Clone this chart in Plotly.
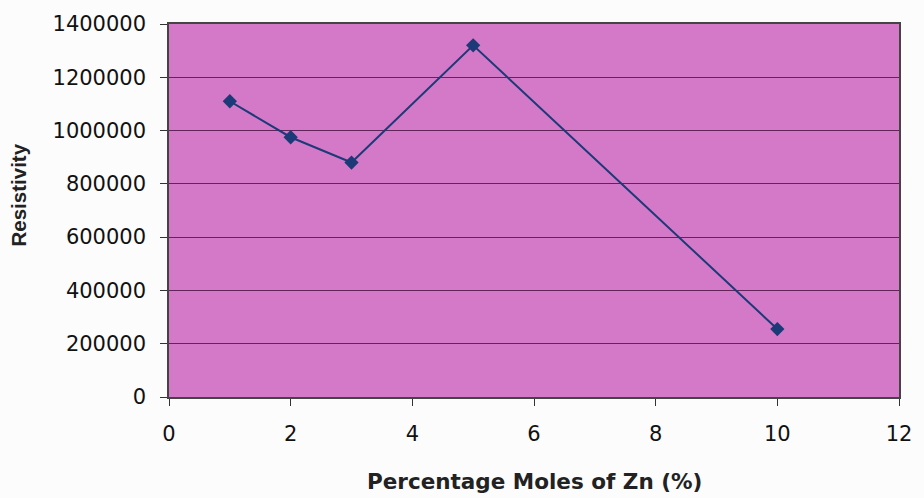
import plotly.graph_objects as go

# Resistivity measured against Zn doping level
zn_percent = [1, 2, 3, 5, 10]
resistivity = [1110000, 975000, 880000, 1320000, 255000]

x_ticks = [0, 2, 4, 6, 8, 10, 12]
y_ticks = [0, 200000, 400000, 600000, 800000, 1000000, 1200000, 1400000]

tick_font = "DejaVu Sans, sans-serif"
title_font = "Liberation Sans, Arial, sans-serif"

fig = go.Figure()
fig.add_trace(go.Scatter(
    x=zn_percent,
    y=resistivity,
    mode="lines+markers",
    line=dict(color="#1C3A78", width=2),
    marker=dict(symbol="diamond", size=11, color="#1C3A78"),
    showlegend=False,
))

fig.update_layout(
    width=924,
    height=498,
    margin=dict(l=169, r=17, t=21, b=101),
    paper_bgcolor="#FCFCFC",
    plot_bgcolor="#D479C8",
    font=dict(family=tick_font, size=21, color="#111111"),
    xaxis=dict(
        range=[0, 12],
        tickvals=x_ticks,
        ticktext=[str(v) for v in x_ticks],
        ticks="outside",
        ticklen=7,
        tickcolor="#333333",
        ticklabelstandoff=10,
        showgrid=False,
        zeroline=False,
        showline=True,
        linecolor="#444444",
        linewidth=1.5,
        mirror=True,
    ),
    yaxis=dict(
        range=[0, 1400000],
        tickvals=y_ticks,
        ticktext=[str(v) for v in y_ticks],
        ticks="outside",
        ticklen=7,
        tickcolor="#333333",
        ticklabelstandoff=10,
        showgrid=True,
        gridcolor="#62245A",
        gridwidth=1,
        zeroline=False,
        showline=True,
        linecolor="#444444",
        linewidth=1.5,
        mirror=True,
    ),
    annotations=[
        dict(
            text="<b>Percentage Moles of Zn (%)</b>",
            x=0.5, y=0, xref="paper", yref="paper",
            xanchor="center", yanchor="middle",
            yshift=-84, showarrow=False,
            font=dict(family=tick_font, size=21.5, color="#222222"),
        ),
        dict(
            text="<b>Resistivity</b>",
            x=0, y=0.5, xref="paper", yref="paper",
            xanchor="center", yanchor="middle",
            xshift=-151, yshift=15, textangle=-90, showarrow=False,
            font=dict(family=title_font, size=20.5, color="#222222"),
        ),
    ],
)

fig.write_html("out.html")
